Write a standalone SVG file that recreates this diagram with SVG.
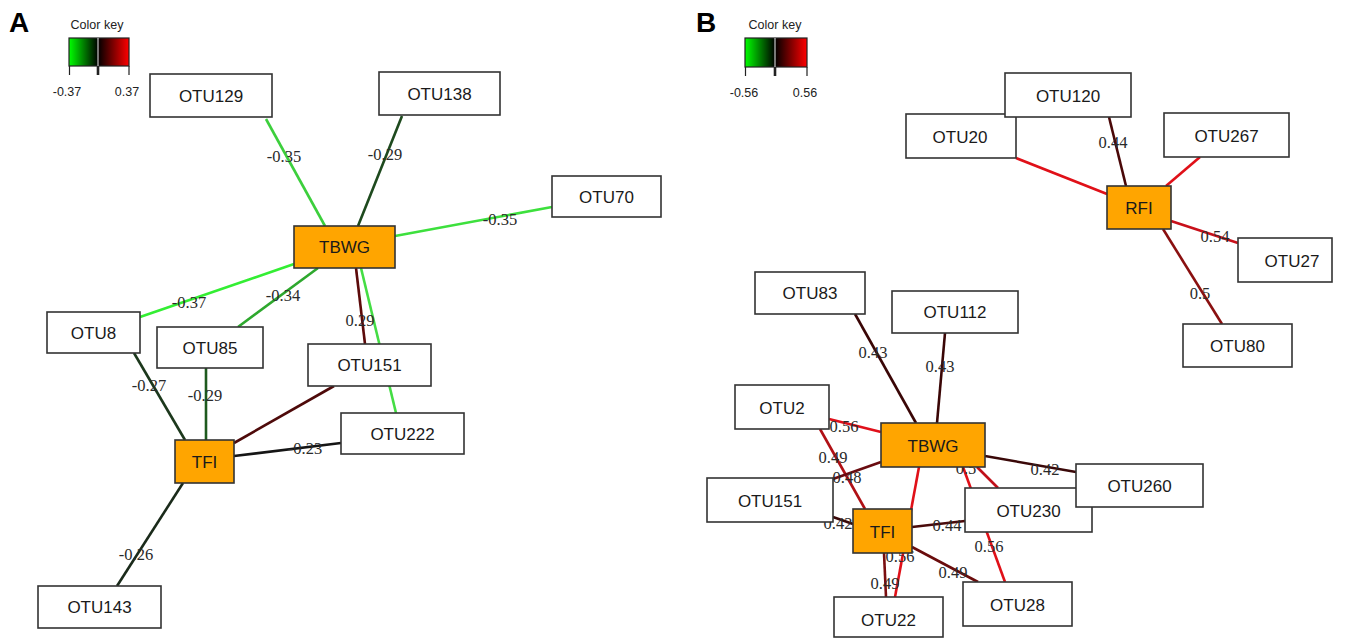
<svg xmlns="http://www.w3.org/2000/svg" width="1354" height="638" viewBox="0 0 1354 638">
<defs>
<linearGradient id="gG" x1="0" x2="1" y1="0" y2="0"><stop offset="0" stop-color="#00ff00"/><stop offset="1" stop-color="#000"/></linearGradient>
<linearGradient id="gR" x1="0" x2="1" y1="0" y2="0"><stop offset="0" stop-color="#000"/><stop offset="1" stop-color="#ff0000"/></linearGradient>
</defs>
<style>
.box{fill:#fff;stroke:#333;stroke-width:1.6}
.hub{fill:#ffa500;stroke:#333;stroke-width:1.6}
.nt{font-family:"Liberation Sans",Arial,sans-serif;font-size:17px;fill:#1a1a1a;text-anchor:middle}
.el{font-family:"Liberation Serif","Times New Roman",serif;font-size:16.5px;fill:#2a2a2a;text-anchor:middle}
.e{stroke-width:2.6;fill:none;stroke-linecap:butt}
.k{font-family:"Liberation Sans",Arial,sans-serif;font-size:12.5px;fill:#222;text-anchor:middle}
.pl{font-family:"Liberation Sans",Arial,sans-serif;font-size:28px;font-weight:bold;fill:#000}
</style>
<rect width="1354" height="638" fill="#fff"/>
<text class="pl" x="9" y="32">A</text>
<text class="pl" x="696" y="32">B</text>
<g id="key-a">
<text class="k" x="97" y="29">Color key</text>
<rect x="69" y="38" width="29" height="28" fill="url(#gG)"/>
<rect x="98" y="38" width="31" height="28" fill="url(#gR)"/>
<rect x="69" y="38" width="60" height="28" fill="none" stroke="#222" stroke-width="1.2"/>
<line x1="98" y1="38" x2="98" y2="66" stroke="#eee" stroke-width="1"/>
<path d="M69.5 66V75M129 66V75" stroke="#222" stroke-width="1.2"/>
<path d="M98 66V75" stroke="#222" stroke-width="2.6"/>
<text class="k" x="67" y="96">-0.37</text>
<text class="k" x="127" y="96">0.37</text>
</g>
<g id="key-b">
<text class="k" x="775" y="29">Color key</text>
<rect x="745" y="38" width="30" height="29" fill="url(#gG)"/>
<rect x="775" y="38" width="32" height="29" fill="url(#gR)"/>
<rect x="745" y="38" width="62" height="29" fill="none" stroke="#222" stroke-width="1.2"/>
<line x1="775" y1="38" x2="775" y2="67" stroke="#eee" stroke-width="1"/>
<path d="M745.5 67V76M807 67V76" stroke="#222" stroke-width="1.2"/>
<path d="M775 67V76" stroke="#222" stroke-width="2.6"/>
<text class="k" x="744" y="97">-0.56</text>
<text class="k" x="805" y="97">0.56</text>
</g>
<g id="connectors">
<line class="e" x1="266" y1="119" x2="325" y2="226" stroke="#3ccf3c"/>
<line class="e" x1="402" y1="116" x2="358" y2="226" stroke="#1e4a1e"/>
<line class="e" x1="552" y1="207" x2="395" y2="236" stroke="#3de03d"/>
<line class="e" x1="140" y1="317" x2="294" y2="264" stroke="#33ee33"/>
<line class="e" x1="238" y1="327" x2="318" y2="268" stroke="#2ea82e"/>
<line class="e" x1="356" y1="268" x2="365" y2="344" stroke="#5c0a0a"/>
<line class="e" x1="361" y1="268" x2="396" y2="413" stroke="#44dd44"/>
<line class="e" x1="134" y1="353" x2="185" y2="440" stroke="#1c381c"/>
<line class="e" x1="206" y1="368" x2="206" y2="440" stroke="#1e5a1e"/>
<line class="e" x1="334" y1="386" x2="234" y2="443" stroke="#4e0a0a"/>
<line class="e" x1="341" y1="443" x2="234" y2="456" stroke="#151515"/>
<line class="e" x1="183" y1="483" x2="117" y2="586" stroke="#1a2a1a"/>
<line class="e" x1="1016" y1="158" x2="1107" y2="194" stroke="#e01018"/>
<line class="e" x1="1109" y1="117" x2="1126" y2="186" stroke="#4a0808"/>
<line class="e" x1="1200" y1="157" x2="1166" y2="186" stroke="#e01018"/>
<line class="e" x1="1171" y1="221" x2="1238" y2="243" stroke="#c8101a"/>
<line class="e" x1="1163" y1="229" x2="1222" y2="324" stroke="#8a1010"/>
<line class="e" x1="855" y1="314" x2="916" y2="423" stroke="#3a0606"/>
<line class="e" x1="945" y1="333" x2="937" y2="423" stroke="#3a0606"/>
<line class="e" x1="829" y1="419" x2="881" y2="432" stroke="#e0101a"/>
<line class="e" x1="820" y1="429" x2="865" y2="509" stroke="#b01015"/>
<line class="e" x1="833" y1="479" x2="881" y2="462" stroke="#6a0c10"/>
<line class="e" x1="833" y1="517" x2="853" y2="524" stroke="#3a0808"/>
<line class="e" x1="919" y1="467" x2="895" y2="597" stroke="#e01018"/>
<line class="e" x1="985" y1="456" x2="1076" y2="472" stroke="#3a0808"/>
<line class="e" x1="977" y1="467" x2="998" y2="488" stroke="#c0101a"/>
<line class="e" x1="963" y1="467" x2="1005" y2="582" stroke="#e01018"/>
<line class="e" x1="912" y1="527" x2="965" y2="521" stroke="#4a0a0a"/>
<line class="e" x1="884" y1="553" x2="886" y2="597" stroke="#7a0e10"/>
<line class="e" x1="912" y1="547" x2="978" y2="582" stroke="#6a0c0c"/>
</g>
<g id="edge-labels">
<text class="el" x="284" y="162">-0.35</text>
<text class="el" x="385" y="160">-0.29</text>
<text class="el" x="500" y="225">-0.35</text>
<text class="el" x="189" y="308">-0.37</text>
<text class="el" x="283" y="301">-0.34</text>
<text class="el" x="360" y="326">0.29</text>
<text class="el" x="149" y="391">-0.27</text>
<text class="el" x="205" y="401">-0.29</text>
<text class="el" x="305" y="454">-0.23</text>
<text class="el" x="136" y="560">-0.26</text>
<text class="el" x="1113" y="148">0.44</text>
<text class="el" x="1215" y="242">0.54</text>
<text class="el" x="1200" y="299">0.5</text>
<text class="el" x="873" y="358">0.43</text>
<text class="el" x="940" y="372">0.43</text>
<text class="el" x="844" y="432">0.56</text>
<text class="el" x="833" y="463">0.49</text>
<text class="el" x="847" y="483">0.48</text>
<text class="el" x="838" y="529">0.42</text>
<text class="el" x="966" y="474">0.5</text>
<text class="el" x="1045" y="475">0.42</text>
<text class="el" x="947" y="531">0.44</text>
<text class="el" x="989" y="552">0.56</text>
<text class="el" x="900" y="562">0.56</text>
<text class="el" x="885" y="589">0.49</text>
<text class="el" x="953" y="578">0.49</text>
</g>
<g id="a-otu129"><rect class="box" x="150" y="74" width="122" height="43"/><text class="nt" x="211" y="102">OTU129</text></g>
<g id="a-otu138"><rect class="box" x="379" y="72" width="121" height="43"/><text class="nt" x="439.5" y="100">OTU138</text></g>
<g id="a-otu70"><rect class="box" x="552" y="176" width="109" height="41"/><text class="nt" x="606.5" y="203">OTU70</text></g>
<g id="a-tbwg"><rect class="hub" x="294" y="226" width="101" height="42"/><text class="nt" x="344.5" y="253">TBWG</text></g>
<g id="a-otu8"><rect class="box" x="47" y="312" width="93" height="41"/><text class="nt" x="93.5" y="339">OTU8</text></g>
<g id="a-otu85"><rect class="box" x="157" y="327" width="106" height="41"/><text class="nt" x="210" y="354">OTU85</text></g>
<g id="a-otu151"><rect class="box" x="308" y="344" width="123" height="42"/><text class="nt" x="369.5" y="371">OTU151</text></g>
<g id="a-otu222"><rect class="box" x="341" y="413" width="123" height="41"/><text class="nt" x="402.5" y="440">OTU222</text></g>
<g id="a-tfi"><rect class="hub" x="175" y="440" width="59" height="43"/><text class="nt" x="204.5" y="468">TFI</text></g>
<g id="a-otu143"><rect class="box" x="38" y="586" width="123" height="42"/><text class="nt" x="99.5" y="613">OTU143</text></g>
<g id="b-otu20"><rect class="box" x="906" y="114" width="110" height="44"/><text class="nt" x="960" y="143">OTU20</text></g>
<g id="b-otu120"><rect class="box" x="1005" y="73" width="126" height="44"/><text class="nt" x="1068" y="102">OTU120</text></g>
<g id="b-otu267"><rect class="box" x="1164" y="113" width="125" height="44"/><text class="nt" x="1226.5" y="142">OTU267</text></g>
<g id="b-rfi"><rect class="hub" x="1107" y="186" width="64" height="43"/><text class="nt" x="1139" y="214">RFI</text></g>
<g id="b-otu27"><rect class="box" x="1238" y="238" width="94" height="44"/><text class="nt" x="1292" y="267">OTU27</text></g>
<g id="b-otu80"><rect class="box" x="1183" y="324" width="109" height="43"/><text class="nt" x="1237.5" y="352">OTU80</text></g>
<g id="b-otu83"><rect class="box" x="755" y="272" width="110" height="42"/><text class="nt" x="810" y="299">OTU83</text></g>
<g id="b-otu112"><rect class="box" x="892" y="291" width="126" height="42"/><text class="nt" x="955" y="318">OTU112</text></g>
<g id="b-otu2"><rect class="box" x="735" y="385" width="94" height="44"/><text class="nt" x="782" y="414">OTU2</text></g>
<g id="b-tbwg"><rect class="hub" x="881" y="423" width="104" height="44"/><text class="nt" x="933" y="452">TBWG</text></g>
<g id="b-otu151"><rect class="box" x="707" y="478" width="126" height="44"/><text class="nt" x="770" y="507">OTU151</text></g>
<g id="b-tfi"><rect class="hub" x="853" y="509" width="59" height="44"/><text class="nt" x="882.5" y="538">TFI</text></g>
<g id="b-otu230"><rect class="box" x="965" y="488" width="127" height="44"/><text class="nt" x="1028.5" y="517">OTU230</text></g>
<g id="b-otu260"><rect class="box" x="1076" y="464" width="127" height="43"/><text class="nt" x="1139.5" y="492">OTU260</text></g>
<g id="b-otu28"><rect class="box" x="963" y="582" width="109" height="44"/><text class="nt" x="1017.5" y="611">OTU28</text></g>
<g id="b-otu22"><rect class="box" x="834" y="597" width="109" height="40"/><text class="nt" x="888.5" y="626">OTU22</text></g>
</svg>
